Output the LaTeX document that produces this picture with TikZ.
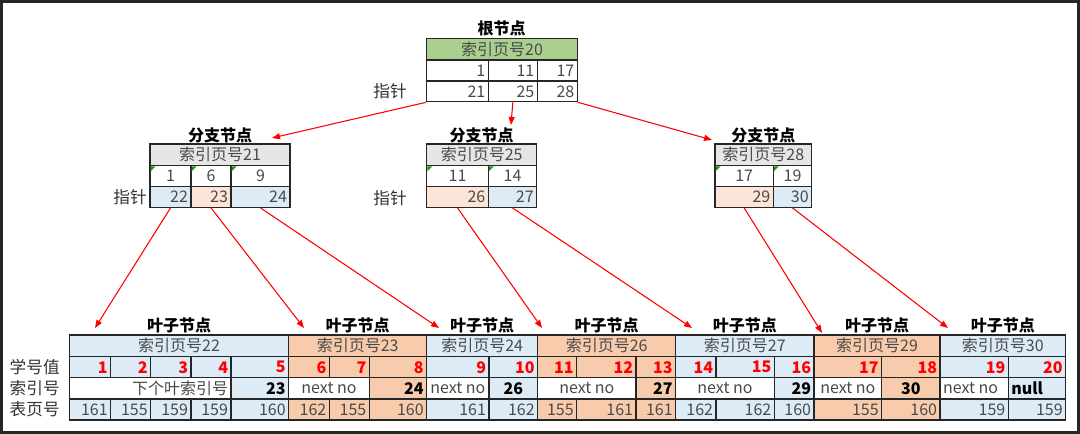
\documentclass[tikz,border=0pt]{standalone}
\usepackage{fontspec}
\setmainfont{Noto Sans CJK SC}
\usetikzlibrary{arrows.meta,fit}

\definecolor{leafblue}{HTML}{DDEBF7}
\definecolor{leaforange}{HTML}{F8CBAD}
\definecolor{paleorange}{HTML}{FCE4D6}
\definecolor{rootgreen}{HTML}{A9D08E}
\definecolor{headgray}{HTML}{E7E6E6}
\definecolor{gridline}{HTML}{262626}
\definecolor{txtgray}{HTML}{4A4A4A}
\definecolor{marker}{HTML}{1E8B24}

% one table cell: name, fill, corners, anchor, text style, text
\newcommand{\cellbox}[6]{%
  \node[cellframe, fill=#2, fit={#3}] (#1) {};
  \node[celltext, anchor=#4, #5] (#1t) at (#1.#4) {#6};
}

\begin{document}
\begin{tikzpicture}[x=0.75pt,y=-0.75pt]
  \tikzset{
    cellframe/.style={draw=gridline, line width=0.9pt, inner sep=0pt, rectangle},
    celltext/.style={inner sep=2.5pt, text=txtgray, font=\fontsize{12}{14}\selectfont},
    redval/.style={text=red, font=\fontsize{12}{14}\selectfont\bfseries},
    boldval/.style={text=black, font=\fontsize{12}{14}\selectfont\bfseries},
    title/.style={inner sep=0pt, text=black, font=\fontsize{12}{14}\selectfont\bfseries},
    sidelabel/.style={inner sep=0pt, anchor=east, text=black!80, font=\fontsize{12.5}{14}\selectfont},
    ptr/.style={draw=red, line width=0.8pt, -{Triangle[length=6pt,width=4.5pt]}}
  }
  \useasboundingbox (0,0) rectangle (1080,434);
  \draw[line width=2pt, draw=black!85] (1.3,1.3) rectangle (1078.7,432.7);

  % root
  \node[title] (rootname) at (501.7,28) {根节点};
  \cellbox{rth}{rootgreen}{(426.7,38.3)(577.3,60)}{center}{}{索引页号20}
  \foreach \xa/\xb/\k/\p [count=\i] in {426.7/488.3/1/21, 488.3/537.3/11/25, 537.3/577.3/17/28}{
    \cellbox{rta\i}{white}{(\xa,60)(\xb,81)}{east}{}{\k}
    \cellbox{rtb\i}{white}{(\xa,81)(\xb,101.7)}{east}{}{\p}
  }
  \node[sidelabel] (rootptr) at (407,91) {指针};

  % branch 21
  \node[title] (b21name) at (220,135) {分支节点};
  \cellbox{b21h}{headgray}{(150,144)(290,165.7)}{center}{}{索引页号21}
  \foreach \xa/\xb/\k/\p/\fc [count=\i] in {150/191/1/22/leafblue, 191/231/6/23/paleorange, 231/290/9/24/leafblue}{
    \cellbox{b21a\i}{white}{(\xa,165.7)(\xb,186.7)}{center}{}{\k}
    \cellbox{b21b\i}{\fc}{(\xa,186.7)(\xb,207.3)}{east}{}{\p}
  }
  \node[sidelabel] (b21ptr) at (147,197) {指针};

  % branch 25
  \node[title] (b25name) at (481.7,135) {分支节点};
  \cellbox{b25h}{headgray}{(426.7,144)(536.7,165.7)}{center}{}{索引页号25}
  \foreach \xa/\xb/\k/\p/\fc [count=\i] in {426.7/488.3/11/26/paleorange, 488.3/536.7/14/27/leafblue}{
    \cellbox{b25a\i}{white}{(\xa,165.7)(\xb,186.7)}{center}{}{\k}
    \cellbox{b25b\i}{\fc}{(\xa,186.7)(\xb,207.3)}{east}{}{\p}
  }
  \node[sidelabel] (b25ptr) at (407,198) {指针};

  % branch 28
  \node[title] (b28name) at (763.3,135) {分支节点};
  \cellbox{b28h}{headgray}{(715,144)(811.7,165.7)}{center}{}{索引页号28}
  \foreach \xa/\xb/\k/\p/\fc [count=\i] in {715/773.3/17/29/paleorange, 773.3/811.7/19/30/leafblue}{
    \cellbox{b28a\i}{white}{(\xa,165.7)(\xb,186.7)}{center}{}{\k}
    \cellbox{b28b\i}{\fc}{(\xa,186.7)(\xb,207.3)}{east}{}{\p}
  }

  % green corner marks
  \foreach \x in {150,191,231,426.7,488.3,715,773.3}
    \fill[marker] (\x+0.6,166.3) -- ++(5,0) -- ++(-5,5) -- cycle;

  % leaf side labels
  \node[sidelabel] (rowno) at (60,367) {学号值};
  \node[sidelabel] (rowidx) at (60,388.3) {索引号};
  \node[sidelabel] (rowpage) at (60,409.5) {表页号};

  % leaf 22
  \node[title] (l22name) at (179.1,325) {叶子节点};
  \cellbox{l22h}{leafblue}{(69.5,335)(288.7,356.7)}{center}{}{索引页号22}
  \foreach \xa/\xb/\k/\p [count=\i] in {69.5/110.7/1/161, 110.7/150.7/2/155, 150.7/191/3/159, 191/231/4/159, 231/288.7/5/160}{
    \cellbox{l22a\i}{leafblue}{(\xa,356.7)(\xb,377.7)}{east}{redval}{\k}
    \cellbox{l22c\i}{leafblue}{(\xa,399)(\xb,420)}{east}{}{\p}
  }
  \cellbox{l22b1}{white}{(69.5,377.7)(231,399)}{east}{}{下个叶索引号}
  \cellbox{l22b2}{leafblue}{(231,377.7)(288.7,399)}{east}{boldval}{23}

  % leaf 23
  \node[title] (l23name) at (357.7,325) {叶子节点};
  \cellbox{l23h}{leaforange}{(288.7,335)(426.7,356.7)}{center}{}{索引页号23}
  \foreach \xa/\xb/\k/\p [count=\i] in {288.7/329.3/6/162, 329.3/369.3/7/155, 369.3/426.7/8/160}{
    \cellbox{l23a\i}{leaforange}{(\xa,356.7)(\xb,377.7)}{east}{redval}{\k}
    \cellbox{l23c\i}{leaforange}{(\xa,399)(\xb,420)}{east}{}{\p}
  }
  \cellbox{l23b1}{white}{(288.7,377.7)(369.3,399)}{center}{}{next no}
  \cellbox{l23b2}{leaforange}{(369.3,377.7)(426.7,399)}{east}{boldval}{24}

  % leaf 24
  \node[title] (l24name) at (482.2,325) {叶子节点};
  \cellbox{l24h}{leafblue}{(426.7,335)(537.7,356.7)}{center}{}{索引页号24}
  \foreach \xa/\xb/\k/\p [count=\i] in {426.7/489/9/161, 489/537.7/10/162}{
    \cellbox{l24a\i}{leafblue}{(\xa,356.7)(\xb,377.7)}{east}{redval}{\k}
    \cellbox{l24c\i}{leafblue}{(\xa,399)(\xb,420)}{east}{}{\p}
  }
  \cellbox{l24b1}{white}{(426.7,377.7)(489,399)}{center}{}{next no}
  \cellbox{l24b2}{leafblue}{(489,377.7)(537.7,399)}{center}{boldval}{26}

  % leaf 26
  \node[title] (l26name) at (606.7,325) {叶子节点};
  \cellbox{l26h}{leaforange}{(537.7,335)(675.7,356.7)}{center}{}{索引页号26}
  \foreach \xa/\xb/\k/\p [count=\i] in {537.7/576.7/11/155, 576.7/636/12/161, 636/675.7/13/161}{
    \cellbox{l26a\i}{leaforange}{(\xa,356.7)(\xb,377.7)}{east}{redval}{\k}
    \cellbox{l26c\i}{leaforange}{(\xa,399)(\xb,420)}{east}{}{\p}
  }
  \cellbox{l26b1}{white}{(537.7,377.7)(636,399)}{center}{}{next no}
  \cellbox{l26b2}{leaforange}{(636,377.7)(675.7,399)}{east}{boldval}{27}

  % leaf 27
  \node[title] (l27name) at (744.9,325) {叶子节点};
  \cellbox{l27h}{leafblue}{(675.7,335)(814,356.7)}{center}{}{索引页号27}
  \foreach \xa/\xb/\k/\p [count=\i] in {675.7/716/14/162, 716/774.3/15/162, 774.3/814/16/160}{
    \cellbox{l27a\i}{leafblue}{(\xa,356.7)(\xb,377.7)}{east}{redval}{\k}
    \cellbox{l27c\i}{leafblue}{(\xa,399)(\xb,420)}{east}{}{\p}
  }
  \cellbox{l27b1}{white}{(675.7,377.7)(774.3,399)}{center}{}{next no}
  \cellbox{l27b2}{leafblue}{(774.3,377.7)(814,399)}{east}{boldval}{29}

  % leaf 29
  \node[title] (l29name) at (877,325) {叶子节点};
  \cellbox{l29h}{leaforange}{(814,335)(940,356.7)}{center}{}{索引页号29}
  \foreach \xa/\xb/\k/\p [count=\i] in {814/881.7/17/155, 881.7/940/18/160}{
    \cellbox{l29a\i}{leaforange}{(\xa,356.7)(\xb,377.7)}{east}{redval}{\k}
    \cellbox{l29c\i}{leaforange}{(\xa,399)(\xb,420)}{east}{}{\p}
  }
  \cellbox{l29b1}{white}{(814,377.7)(881.7,399)}{center}{}{next no}
  \cellbox{l29b2}{leaforange}{(881.7,377.7)(940,399)}{center}{boldval}{30}

  % leaf 30
  \node[title] (l30name) at (1002.8,325) {叶子节点};
  \cellbox{l30h}{leafblue}{(940,335)(1065.7,356.7)}{center}{}{索引页号30}
  \foreach \xa/\xb/\k/\p [count=\i] in {940/1008.3/19/159, 1008.3/1065.7/20/159}{
    \cellbox{l30a\i}{leafblue}{(\xa,356.7)(\xb,377.7)}{east}{redval}{\k}
    \cellbox{l30c\i}{leafblue}{(\xa,399)(\xb,420)}{east}{}{\p}
  }
  \cellbox{l30b1}{white}{(940,377.7)(1008.3,399)}{west}{}{next no}
  \cellbox{l30b2}{leafblue}{(1008.3,377.7)(1065.7,399)}{west}{boldval}{null}

  % pointer targets
  \coordinate (to21) at (272,138);
  \coordinate (to25) at (511,125);
  \coordinate (to28) at (712,140);
  \coordinate (to22) at (95,328);
  \coordinate (to23) at (304,328);
  \coordinate (to24) at (439,328);
  \coordinate (to26) at (542,328);
  \coordinate (to27) at (692,328);
  \coordinate (to29) at (822,333);
  \coordinate (to30) at (948,328);

  % pointers
  \draw[ptr] (rtb1.south west) -- (to21);
  \draw[ptr] (rtb2.south) -- (to25);
  \draw[ptr] (rtb3.south east) -- (to28);
  \draw[ptr] (b21b1.south) -- (to22);
  \draw[ptr] (b21b2.south) -- (to23);
  \draw[ptr] (b21b3.south) -- (to24);
  \draw[ptr] (b25b1.south) -- (to26);
  \draw[ptr] (b25b2.south) -- (to27);
  \draw[ptr] (b28b1.south) -- (to29);
  \draw[ptr] (b28b2.south) -- (to30);
\end{tikzpicture}
\end{document}
